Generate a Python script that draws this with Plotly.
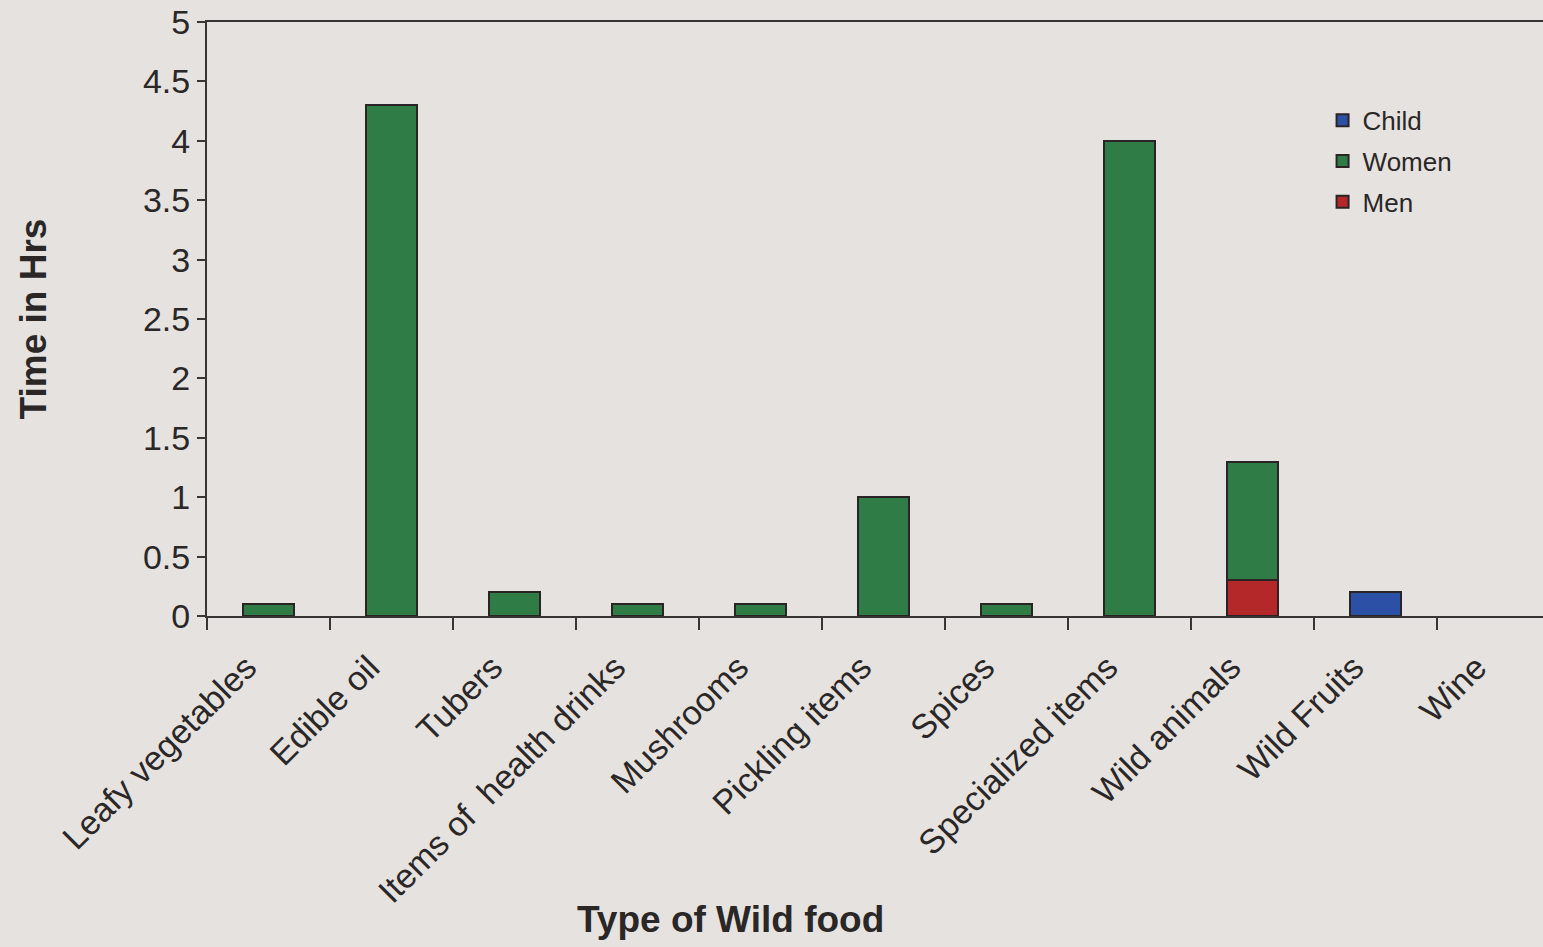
import plotly.graph_objects as go

# Time spent collecting each type of wild food (hours), by member of household
categories = [
    "Leafy vegetables", "Edible oil", "Tubers", "Items of  health drinks",
    "Mushrooms", "Pickling items", "Spices", "Specialized items",
    "Wild animals", "Wild Fruits", "Wine",
]
men = [0, 0, 0, 0, 0, 0, 0, 0, 0.3, 0, 0]
women = [0.1, 4.3, 0.2, 0.1, 0.1, 1.0, 0.1, 4.0, 1.0, 0, 0]
child = [0, 0, 0, 0, 0, 0, 0, 0, 0, 0.2, 0]
y_ticks = [0, 0.5, 1, 1.5, 2, 2.5, 3, 3.5, 4, 4.5, 5]

paper = "#e5e2df"
ink = "#2b2727"
edge = dict(color="#2a2424", width=2)

fig = go.Figure()
# stacked bottom to top: Men, Women, Child; legend lists Child first
for rank, (name, vals, color) in enumerate([("Men", men, "#b4282a"),
                                             ("Women", women, "#2f7c46"),
                                             ("Child", child, "#2c50a6")]):
    # empty segments are skipped so zero values draw no outline
    fig.add_trace(go.Bar(name=name, x=categories,
                         y=[v if v > 0 else None for v in vals],
                         width=0.41, legendrank=3 - rank, legendgroup=name,
                         marker=dict(color=color, line=edge)))

fig.update_layout(
    barmode="stack",
    width=1543, height=947,
    margin=dict(l=207, r=0, t=22, b=331),
    paper_bgcolor=paper, plot_bgcolor=paper,
    font=dict(family="Liberation Sans, Arial, sans-serif", color=ink),
    showlegend=True,
    legend=dict(
        traceorder="grouped",
        x=0.835, y=0.874, xanchor="left", yanchor="top",
        bgcolor="rgba(0,0,0,0)",
        font=dict(size=26, color=ink),
        itemwidth=30, tracegroupgap=4,
    ),
    annotations=[dict(
        text="<b>Type of Wild food</b>", xref="paper", yref="paper",
        x=(730 - 207) / 1336, y=-(920 - 616) / 594,
        xanchor="center", yanchor="middle", showarrow=False,
        font=dict(size=37, color=ink),
    )],
)

fig.update_xaxes(
    range=[-0.5, 10.36],
    tickangle=-45,
    tickfont=dict(size=34, color=ink),
    ticklabelstandoff=16, ticklabelshift=-22,
    showline=True, linecolor="#3a3434", linewidth=2, mirror=True,
    ticks="outside", ticklen=12, tickcolor="#3a3434", tickwidth=1.5,
    tickson="boundaries",
    showgrid=False, zeroline=False,
)

fig.update_yaxes(
    range=[0, 5],
    tickvals=y_ticks,
    ticktext=[f"{v:g}" for v in y_ticks],
    tickfont=dict(size=34, color=ink),
    showline=True, linecolor="#3a3434", linewidth=2,
    ticks="outside", ticklen=8, tickcolor="#3a3434", tickwidth=1.5,
    showgrid=False, zeroline=False,
    title=dict(text="<b>Time in Hrs</b>", font=dict(size=37, color=ink),
               standoff=85),
)

fig.write_html("out.html")
